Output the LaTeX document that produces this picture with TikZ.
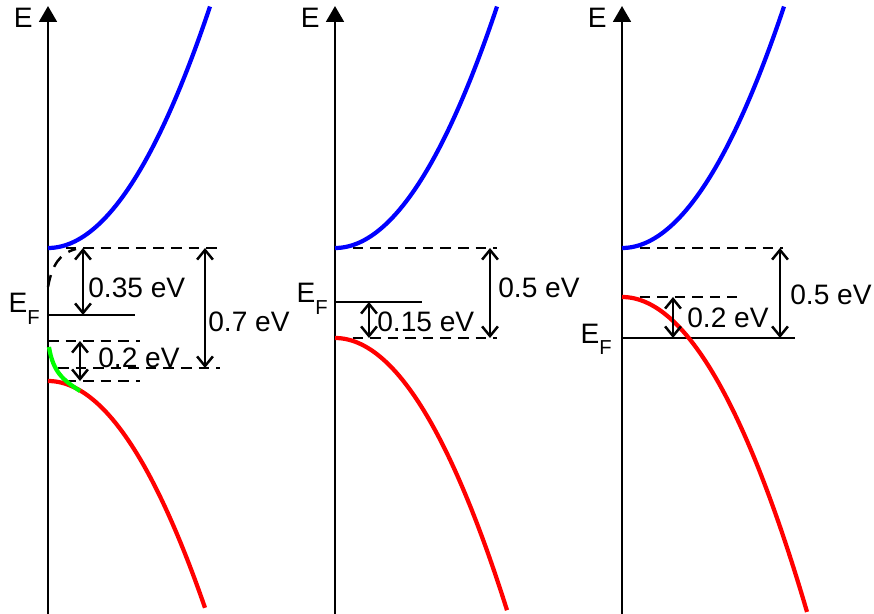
\documentclass[tikz,border=0pt]{standalone}
\usepackage{fontspec}
\setmainfont{Liberation Sans}
\usetikzlibrary{arrows.meta}
\tikzset{
  axis/.style={line width=1.5pt,-{Triangle[length=9pt,width=10pt]}},
  level/.style={line width=1.4pt},
  dlevel/.style={line width=1.4pt,dash pattern=on 6pt off 4pt},
  gap/.style={line width=1.4pt,{Straight Barb[length=5.5pt,width=9pt]}-{Straight Barb[length=5.5pt,width=9pt]}},
  band/.style={line width=2.4pt},
  lbl/.style={inner sep=0pt,anchor=base west,font=\fontsize{16}{19}\selectfont},
  efl/.style={inner sep=0pt,anchor=base east,font=\fontsize{16}{19}\selectfont}
}
\newcommand{\EF}{E\raisebox{-6.8pt}{\fontsize{11.5}{13}\selectfont F}}

\begin{document}
\begin{tikzpicture}[x=0.02cm,y=-0.02cm]
    \useasboundingbox (0,0) rectangle (874,614);

    % Draw axes
    \foreach \ax/\name in {48/a, 335/b, 622/c} {
        \draw[axis] (\ax,614) -- (\ax,6);
        \node[lbl,anchor=base east] (E\name) at (\ax-15,28) {E};
    }

    % Left panel: levels
    \coordinate (a1) at (48,248);  \coordinate (a1e) at (220,248);
    \coordinate (a2) at (48,315);  \coordinate (a2e) at (135,315);
    \coordinate (a3) at (48,341);  \coordinate (a3e) at (140,341);
    \coordinate (a4) at (58,368);  \coordinate (a4e) at (220,368);
    \coordinate (a5) at (48,381);  \coordinate (a5e) at (140,381);
    \draw[dlevel] (a1) -- (a1e);
    \draw[level]  (a2) -- (a2e);
    \draw[dlevel] (a3) -- (a3e);
    \draw[dlevel] (a4) -- (a4e);
    \draw[dlevel] (a5) -- (a5e);

    % Left panel: bands
    \draw[band,blue] plot[domain=0:162,samples=60,smooth] ({48+\x},{248-0.0092*\x*\x});
    \draw[band,red] plot[domain=0:157,samples=60,smooth] ({48+\x},{381+0.0092*\x*\x});
    \draw[band,green] (49,347) .. controls (53,372) and (63,380) .. (80,391);
    \draw[line width=1.4pt,dash pattern=on 7pt off 5pt] (48,287) .. controls (52,265) and (60,253) .. (76,249);

    % Left panel: gaps
    \draw[gap] (a1 -| 83,0) -- (a2 -| 83,0);
    \draw[gap] (a1 -| 205,0) -- (a4 -| 205,0);
    \draw[gap] (a3 -| 80,0) -- (a5 -| 80,0);
    \node[lbl] (g35) at (88,297) {0.35 eV};
    \node[lbl] (g70) at (208,332) {0.7 eV};
    \node[lbl] (g20a) at (98,367) {0.2 eV};
    \node[efl] (EFa) at (40,313) {\EF};

    % Middle panel
    \coordinate (b1) at (335,248); \coordinate (b1e) at (497,248);
    \coordinate (b2) at (335,302); \coordinate (b2e) at (422,302);
    \coordinate (b3) at (335,338); \coordinate (b3e) at (497,338);
    \draw[dlevel] (b1) -- (b1e);
    \draw[level]  (b2) -- (b2e);
    \draw[dlevel] (b3) -- (b3e);
    \draw[band,blue] plot[domain=0:162,samples=60,smooth] ({335+\x},{248-0.0092*\x*\x});
    \draw[band,red] plot[domain=0:172,samples=60,smooth] ({335+\x},{338+0.0092*\x*\x});
    \draw[gap] (b2 -| 369,0) -- (b3 -| 369,0);
    \draw[gap] (b1 -| 490,0) -- (b3 -| 490,0);
    \node[lbl] (g15) at (377,332) {0.15 eV};
    \node[lbl] (g50b) at (498,297) {0.5 eV};
    \node[efl] (EFb) at (328,303) {\EF};

    % Right panel
    \coordinate (c1) at (622,248); \coordinate (c1e) at (783,248);
    \coordinate (c2) at (622,297); \coordinate (c2e) at (737,297);
    \coordinate (c3) at (622,338); \coordinate (c3e) at (795,338);
    \draw[dlevel] (c1) -- (c1e);
    \draw[dlevel] (c2) -- (c2e);
    \draw[level]  (c3) -- (c3e);
    \draw[band,blue] plot[domain=0:162,samples=60,smooth] ({622+\x},{248-0.0092*\x*\x});
    \draw[band,red] plot[domain=0:185,samples=60,smooth] ({622+\x},{297+0.0092*\x*\x});
    \draw[gap] (c2 -| 673,0) -- (c3 -| 673,0);
    \draw[gap] (c1 -| 780,0) -- (c3 -| 780,0);
    \node[lbl] (g20c) at (687,328) {0.2 eV};
    \node[lbl] (g50c) at (790,305) {0.5 eV};
    \node[efl] (EFc) at (612,343) {\EF};
\end{tikzpicture}
\end{document}
